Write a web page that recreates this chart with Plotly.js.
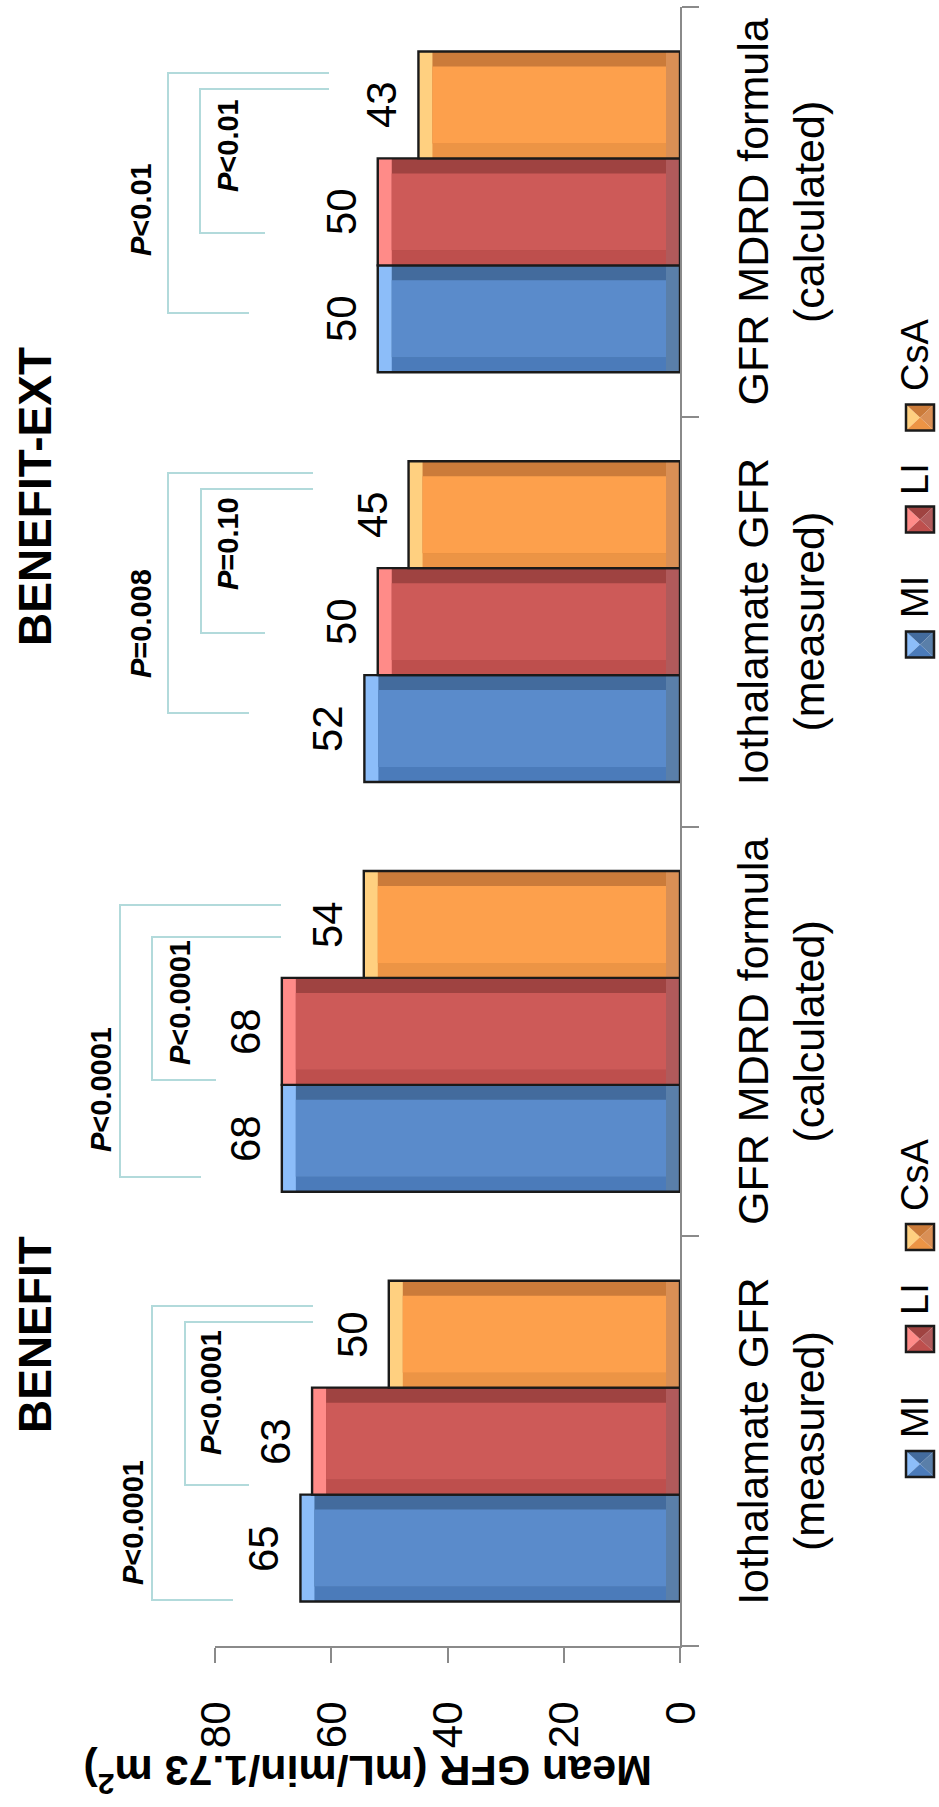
<!DOCTYPE html>
<html><head><meta charset="utf-8">
<script src="https://cdn.plot.ly/plotly-3.0.1.min.js"></script>
<style>
html,body{margin:0;padding:0;width:939px;height:1807px;overflow:hidden;background:#fff;}
#wrap{position:absolute;left:0;top:0;width:1807px;height:939px;transform-origin:0 0;transform:translateY(1807px) rotate(-90deg);}
</style></head><body>
<div id="wrap"><div id="chart" style="width:1807px;height:939px;"></div></div>
<script>
// ---- data ----
const measures = ["Iothalamate GFR<br>(measured)", "GFR MDRD formula<br>(calculated)", "Iothalamate GFR<br>(measured)", "GFR MDRD formula<br>(calculated)"];
const studies = ["BENEFIT", "BENEFIT-EXT"];
const seriesNames = ["MI", "LI", "CsA"];
const MI  = [65.3, 68.5, 54.3, 52.0];
const LI  = [63.3, 68.5, 52.0, 52.0];
const CsA = [50.1, 54.4, 46.7, 45.0];
const MI_labels  = ["65", "68", "52", "50"];
const LI_labels  = ["63", "68", "50", "50"];
const CsA_labels = ["50", "54", "45", "43"];
const pOuter = ["<i>P</i>&lt;0.0001", "<i>P</i>&lt;0.0001", "<i>P</i>=0.008", "<i>P</i>&lt;0.01"];
const pInner = ["<i>P</i>&lt;0.0001", "<i>P</i>&lt;0.0001", "<i>P</i>=0.10", "<i>P</i>&lt;0.01"];
const yTicks = [0, 20, 40, 60, 80];

// ---- styling ----
const FONT = "Liberation Sans, Arial, sans-serif";
const W = 1807, H = 939, ML = 161, MR = 7, MT = 215, MB = 259;
const PW = W - ML - MR, PH = H - MT - MB;
const catPx = PW / measures.length;
const pu = u => (u - ML) / PW;           // px -> paper x
const pv = v => (H - MB - v) / PH;       // px -> paper y
const pal = [
  {face:"#5a8bcb", tip:"#8cbdf9", right:"#436b9d", left:"#4b7bba", base:"#5a7fa9"},
  {face:"#cd5a58", tip:"#ff8b88", right:"#9f4341", left:"#be4f4d", base:"#b05a5b"},
  {face:"#fda04c", tip:"#ffd080", right:"#cb7b3a", left:"#ec9445", base:"#d98f55"}
];
const values = [MI, LI, CsA];
const labels = [MI_labels, LI_labels, CsA_labels];
const catIds = measures.map((m, i) => m + (i >= 2 ? "\u200b" : ""));

const groupW = 0.783, barW = groupW / 3;
const eU = 15 / catPx, eV = 14 / (PH / 80);

const traces = [];
const annotations = [];
const shapes = [];

values.forEach((vals, k) => {
  const o = -groupW / 2 + k * barW;
  const c = pal[k];
  const mk = (y, base, off, wid, color, line) => ({
    type: "bar", x: catIds, y: y, base: base, offset: off, width: wid,
    marker: {color: color, line: line || {width: 0}},
    hoverinfo: "skip", showlegend: false, name: seriesNames[k]
  });
  traces.push(mk(vals, 0, o, barW, c.base));
  traces.push(mk(vals.map(v => v - eV), eV, o, barW, c.left));
  traces.push(mk(vals.map(v => v - eV), eV, o + eU, barW - eU, c.right));
  traces.push(mk(vals.map(v => eV), vals.map(v => v - eV), o, barW, c.tip));
  traces.push(mk(vals.map(v => v - 2 * eV), eV, o + eU, barW - 2 * eU, c.face));
  traces.push(mk(vals, 0, o, barW, "rgba(0,0,0,0)", {width: 2.4, color: "#1a1a1a"}));
  vals.forEach((v, i) => {
    annotations.push({
      xref: "x", yref: "y", x: i + o + barW / 2, y: v, xanchor: "center", yanchor: "bottom", yshift: 11,
      text: labels[k][i], showarrow: false, font: {family: FONT, size: 42, color: "#000"}
    });
  });
});

// brackets (px geometry, N orientation): [uLeft, uRight, vTop, vLeftEnd, vRightEnd]
const brackets = [
  {o:[207, 501, 152, 233, 313], n:[322, 485, 185, 249, 313], to:[284, 133], tn:[414, 211]},
  {o:[630, 902, 120, 201, 281], n:[727, 870, 152, 216, 281], to:[717, 101], tn:[804, 180]},
  {o:[1094, 1334, 168, 249, 313], n:[1174, 1318, 201, 265, 313], to:[1183, 141], tn:[1263, 228]},
  {o:[1494, 1734, 168, 249, 329], n:[1574, 1718, 200, 265, 329], to:[1597, 141], tn:[1661, 228]}
];
const brPath = b => `M${pu(b[0])},${pv(b[3])} L${pu(b[0])},${pv(b[2])} L${pu(b[1])},${pv(b[2])} L${pu(b[1])},${pv(b[4])}`;
const cm = {xref:"paper", yref:"paper", xanchor:"center", yanchor:"middle", showarrow:false};
brackets.forEach((b, i) => {
  [b.o, b.n].forEach(g => shapes.push({type: "path", xref: "paper", yref: "paper", path: brPath(g), line: {color: "#b2dadb", width: 2}}));
  annotations.push(Object.assign({}, cm, {x: pu(b.to[0]), y: pv(b.to[1]), text: pOuter[i],
    font:{family: FONT, size: 29, color:"#000", weight: "bold"}}));
  annotations.push(Object.assign({}, cm, {x: pu(b.tn[0]), y: pv(b.tn[1]), text: pInner[i],
    font:{family: FONT, size: 29, color:"#000", weight: "bold"}}));
});

// study titles
[472, 1310].forEach((u, i) => annotations.push(Object.assign({}, cm, {x: pu(u), y: pv(35), text: studies[i],
  font:{family: FONT, size: 46, color:"#000", weight:"bold"}})));

// y-axis title
annotations.push(Object.assign({}, cm, {x: pu(33), y: pv(368), textangle: -90,
  text: "Mean GFR (mL/min/1.73 m<sup>2</sup>)",
  font:{family: FONT, size: 43, color:"#000", weight:"bold"}}));

// legends (two copies, one per study)
const legMarkU = [330, 455, 557], legTextU = [367, 490, 594];
[0, 2 * catPx].forEach(shift => {
  seriesNames.forEach((nm, k) => {
    const c = pal[k];
    const u0 = legMarkU[k] + shift, u1 = u0 + 26, v0 = 906, v1 = 934;
    const x0 = pu(u0), x1 = pu(u1), y0 = pv(v1), y1 = pv(v0), xc = (x0 + x1) / 2, yc = (y0 + y1) / 2;
    const tri = (p, col) => shapes.push({type:"path", xref:"paper", yref:"paper", path: p, fillcolor: col, line:{width:0}});
    tri(`M${x0},${y1} L${x1},${y1} L${xc},${yc} Z`, c.tip);
    tri(`M${x1},${y1} L${x1},${y0} L${xc},${yc} Z`, c.right);
    tri(`M${x0},${y0} L${x1},${y0} L${xc},${yc} Z`, c.base);
    tri(`M${x0},${y0} L${x0},${y1} L${xc},${yc} Z`, c.left);
    shapes.push({type:"rect", xref:"paper", yref:"paper", x0:x0, x1:x1, y0:y0, y1:y1, line:{color:"#1a1a1a", width:2.5}});
    annotations.push(Object.assign({}, cm, {x: pu(legTextU[k] + shift), y: pv(915), xanchor:"left",
      text: nm, font:{family: FONT, size: 38, color:"#000"}}));
  });
});

const axisCol = "#8a8a8a";
const layout = {
  width: W, height: H,
  margin: {l: ML, r: MR, t: MT, b: MB, pad: 0},
  paper_bgcolor: "#fff", plot_bgcolor: "#fff",
  barmode: "overlay", showlegend: false,
  xaxis: {type: "category", categoryorder: "array", categoryarray: catIds, range: [-0.5, 3.5],
    tickson: "boundaries", ticks: "outside", ticklen: 17, tickwidth: 2, tickcolor: axisCol,
    showline: true, linecolor: axisCol, linewidth: 2, showgrid: false, zeroline: false,
    tickfont: {family: FONT, size: 43, color: "#000"}, ticklabelstandoff: 34},
  yaxis: {range: [0, 80], tickmode: "array", tickvals: yTicks, ticks: "outside", ticklen: 15, tickwidth: 2,
    tickcolor: axisCol, showline: true, linecolor: axisCol, linewidth: 2, showgrid: false, zeroline: false,
    tickfont: {family: FONT, size: 42, color: "#000"}, ticklabelstandoff: 30},
  annotations: annotations, shapes: shapes
};
Plotly.newPlot("chart", traces, layout, {staticPlot: true, responsive: false, displayModeBar: false});
</script></body></html>
